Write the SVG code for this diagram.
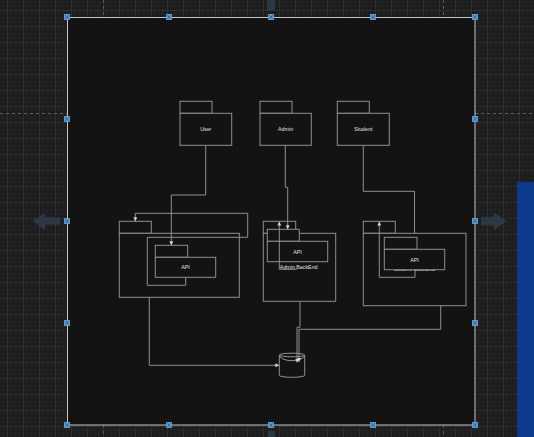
<svg xmlns="http://www.w3.org/2000/svg" width="534" height="437" viewBox="0 0 534 437">
<style>
.shape{fill:#131313;stroke:#8f8f8f;stroke-width:1}
.frame{fill:none;stroke:#8f8f8f;stroke-width:1}
.lbl{font-family:"Liberation Sans",Arial,sans-serif;font-size:5.3px;fill:#e2e2e2;text-anchor:middle;dominant-baseline:central}
.edge{fill:none;stroke:#8f8f8f;stroke-width:1}
.dash{stroke:#5a5a5a;stroke-width:1;stroke-dasharray:3 3}
.h{fill:#5a9ad0}
.hx{stroke:#2f5f8a;stroke-width:0.8}
</style>
<defs>
<pattern id="grid" patternUnits="userSpaceOnUse" x="7" y="10" width="16" height="16">
<rect width="16" height="16" fill="#1c1c1c"/>
<path d="M4 0V16M8 0V16M12 0V16M0 4H16M0 8H16M0 12H16" stroke="#232323" stroke-width="1"/>
<path d="M0.5 0V16M0 0.5H16" stroke="#2f2f2f" stroke-width="1"/>
</pattern>
<marker id="arr" markerUnits="userSpaceOnUse" markerWidth="4" markerHeight="4" refX="4" refY="2" orient="auto">
<path d="M0,0 L4,2 L0,4 z" fill="#d0d0d0"/>
</marker>
</defs>

<g id="canvas">
<rect width="534" height="437" fill="url(#grid)"/>
<path class="dash" d="M0 113.5H67M475 113.5H534M103.5 0V17M443.5 0V17M103.5 425V437M443.5 425V437"/>
<rect x="267" y="0" width="8" height="10" fill="#2b3741"/>
<rect x="268" y="431" width="7" height="6" fill="#2b3741"/>
<path d="M33 221 L45 212.7 V217.3 H60 V224.7 H45 V230 Z" fill="#2c3b49" opacity="0.9"/>
<path d="M507 221 L494 212.7 V216.7 H481 V225.3 H494 V230 Z" fill="#2c3b49" opacity="0.9"/>
<rect x="517" y="182" width="17" height="255" fill="#0d3a8c"/>
<rect x="67.5" y="17.5" width="407.5" height="407.5" fill="#131313" stroke="#c4c4c4" stroke-width="1"/>
</g>

<g id="user">
<rect class="shape" x="180" y="101.3" width="32" height="12"/>
<rect class="shape" x="180" y="113.3" width="51.7" height="32"/>
<text class="lbl" x="205.8" y="129.3">User</text>
</g>

<g id="admin">
<rect class="shape" x="260" y="101.3" width="32" height="12"/>
<rect class="shape" x="260" y="113.3" width="51.3" height="32"/>
<text class="lbl" x="285.6" y="129.3">Admin</text>
</g>

<g id="student">
<rect class="shape" x="337.3" y="101.3" width="32" height="12"/>
<rect class="shape" x="337.3" y="113.3" width="52" height="32"/>
<text class="lbl" x="363.3" y="129.3">Student</text>
</g>

<g id="frontend">
<rect class="shape" x="119.3" y="221.3" width="32" height="12"/>
<rect class="shape" x="119.3" y="233.3" width="120" height="64"/>
<path class="frame" d="M147.3 237.3V285.3H185.7V277.3"/>
</g>

<g id="api-frontend">
<rect class="shape" x="155.3" y="245.3" width="32.4" height="12"/>
<rect class="shape" x="155.3" y="257.3" width="60.4" height="20"/>
<text class="lbl" x="185.5" y="267.3">API</text>
</g>

<g id="admin-backend">
<rect class="shape" x="263.3" y="221.3" width="32.4" height="12"/>
<rect class="shape" x="263.3" y="233.3" width="72.4" height="68"/>
<text class="lbl" x="298.7" y="267.2">Admin BackEnd</text>
</g>

<g id="api-admin">
<rect class="shape" x="267.3" y="229.3" width="32" height="12"/>
<rect class="shape" x="267.3" y="241.3" width="60.4" height="20.4"/>
<text class="lbl" x="297.5" y="251.5">API</text>
</g>

<g id="student-backend">
<rect class="shape" x="363.3" y="221.3" width="32" height="12"/>
<rect class="shape" x="363.3" y="233.3" width="102.7" height="72.4"/>
<text class="lbl" x="414.5" y="269.3">Student BackEnd</text>
</g>

<g id="api-student">
<rect class="shape" x="384.3" y="237.3" width="32.7" height="12"/>
<rect class="shape" x="384.3" y="249.3" width="60.4" height="20.4"/>
<text class="lbl" x="414.5" y="259.5">API</text>
</g>

<g id="database">
<path class="shape" d="M279.3 355 A12.7 1.8 0 0 1 304.7 355 V375.3 A12.7 2 0 0 1 279.3 375.3 Z"/>
<path class="frame" d="M279.3 355 A12.7 1.8 0 0 0 304.7 355 M279.3 355 A12.7 5.7 0 0 0 304.7 355"/>
</g>

<g id="connectors">
<path class="edge" d="M205.7 145.3V195H171.3V245.3" marker-end="url(#arr)"/>
<path class="edge" d="M147.3 237.3H247.7V213.3H135.3V221.3" marker-end="url(#arr)"/>
<path class="edge" d="M285.3 145.3V187.3H287.7V229.3" marker-end="url(#arr)"/>
<path class="edge" d="M296.7 269.3H279.3V221.5" marker-end="url(#arr)"/>
<path class="edge" d="M363.3 145.3V191.3H414.5V233.3"/>
<path class="edge" d="M415 269.7V277.3H379.3V221.5" marker-end="url(#arr)"/>
<path class="edge" d="M149.3 297.3V365.3H279.3" marker-end="url(#arr)"/>
<path class="edge" d="M300 301.3V327.3H297V362.5" marker-end="url(#arr)"/>
<path class="edge" d="M440.7 305.7V329.3H299V362" marker-end="url(#arr)"/>
</g>

<g id="handles">
<g class="h">
<rect x="64" y="14" width="6" height="6"/><rect x="166" y="14" width="6" height="6"/><rect x="268" y="14" width="6" height="6"/><rect x="370" y="14" width="6" height="6"/><rect x="472" y="14" width="6" height="6"/>
<rect x="64" y="116" width="6" height="6"/><rect x="472" y="116" width="6" height="6"/>
<rect x="64" y="218" width="6" height="6"/><rect x="472" y="218" width="6" height="6"/>
<rect x="64" y="320" width="6" height="6"/><rect x="472" y="320" width="6" height="6"/>
<rect x="64" y="422" width="6" height="6"/><rect x="166" y="422" width="6" height="6"/><rect x="268" y="422" width="6" height="6"/><rect x="370" y="422" width="6" height="6"/><rect x="472" y="422" width="6" height="6"/>
</g>
<path class="hx" d="M65 15l4 4m0-4l-4 4M167 15l4 4m0-4l-4 4M269 15l4 4m0-4l-4 4M371 15l4 4m0-4l-4 4M473 15l4 4m0-4l-4 4M65 117l4 4m0-4l-4 4M473 117l4 4m0-4l-4 4M65 219l4 4m0-4l-4 4M473 219l4 4m0-4l-4 4M65 321l4 4m0-4l-4 4M473 321l4 4m0-4l-4 4M65 423l4 4m0-4l-4 4M167 423l4 4m0-4l-4 4M269 423l4 4m0-4l-4 4M371 423l4 4m0-4l-4 4M473 423l4 4m0-4l-4 4"/>
</g>
</svg>
